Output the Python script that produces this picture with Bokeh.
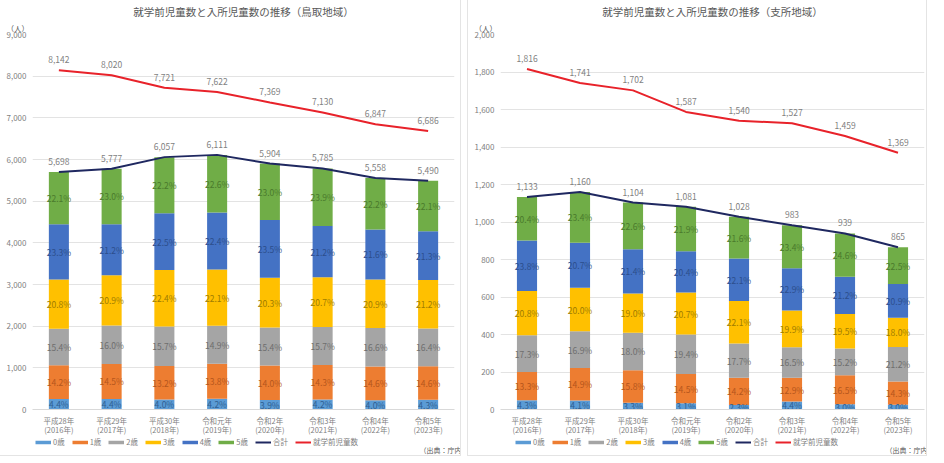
import numpy as np
from bokeh.plotting import figure
from bokeh.models import (ColumnDataSource, FixedTicker, NumeralTickFormatter, Legend,
                          LegendItem, Title, Spacer, Range1d)
from bokeh.layouts import row, column
from bokeh.embed import file_html
from bokeh.resources import INLINE
from bokeh.core.properties import value

FONT = "Noto Sans CJK JP"

years = ["平成28年\n(2016年)", "平成29年\n(2017年)", "平成30年\n(2018年)", "令和元年\n(2019年)",
         "令和2年\n(2020年)", "令和3年\n(2021年)", "令和4年\n(2022年)", "令和5年\n(2023年)"]
ages = ["0歳", "1歳", "2歳", "3歳", "4歳", "5歳"]

# 鳥取地域
tot_a = [5698, 5777, 6057, 6111, 5904, 5785, 5558, 5490]
pre_a = [8142, 8020, 7721, 7622, 7369, 7130, 6847, 6686]
a0 = [251, 254, 242, 257, 230, 243, 222, 236]
a1 = [809, 838, 800, 843, 827, 827, 811, 804]
a2 = [877, 924, 951, 911, 909, 908, 925, 902]
a3 = [1185, 1207, 1357, 1350, 1199, 1198, 1163, 1165]
a4 = [1323, 1225, 1363, 1369, 1384, 1226, 1202, 1170]
a5 = [1253, 1329, 1344, 1381, 1355, 1383, 1235, 1213]
pa0 = [4.4, 4.4, 4.0, 4.2, 3.9, 4.2, 4.0, 4.3]
pa1 = [14.2, 14.5, 13.2, 13.8, 14.0, 14.3, 14.6, 14.6]
pa2 = [15.4, 16.0, 15.7, 14.9, 15.4, 15.7, 16.6, 16.4]
pa3 = [20.8, 20.9, 22.4, 22.1, 20.3, 20.7, 20.9, 21.2]
pa4 = [23.3, 21.2, 22.5, 22.4, 23.5, 21.2, 21.6, 21.3]
pa5 = [22.1, 23.0, 22.2, 22.6, 23.0, 23.9, 22.2, 22.1]

# 支所地域
tot_b = [1133, 1160, 1104, 1081, 1028, 983, 939, 865]
pre_b = [1816, 1741, 1702, 1587, 1540, 1527, 1459, 1369]
b0 = [49, 48, 36, 33, 24, 43, 28, 26]
b1 = [151, 173, 174, 157, 146, 127, 155, 124]
b2 = [196, 196, 199, 210, 182, 162, 143, 183]
b3 = [236, 232, 210, 224, 227, 196, 183, 156]
b4 = [270, 240, 236, 220, 227, 225, 199, 181]
b5 = [231, 271, 249, 237, 222, 230, 231, 195]
pb0 = [4.3, 4.1, 3.3, 3.1, 2.3, 4.4, 3.0, 3.0]
pb1 = [13.3, 14.9, 15.8, 14.5, 14.2, 12.9, 16.5, 14.3]
pb2 = [17.3, 16.9, 18.0, 19.4, 17.7, 16.5, 15.2, 21.2]
pb3 = [20.8, 20.0, 19.0, 20.7, 22.1, 19.9, 19.5, 18.0]
pb4 = [23.8, 20.7, 21.4, 20.4, 22.1, 22.9, 21.2, 20.9]
pb5 = [20.4, 23.4, 22.6, 21.9, 21.6, 23.4, 24.6, 22.5]

source_note = "（出典：庁内資料）"

bar_colors = ["#5B9BD5", "#ED7D31", "#A5A5A5", "#FFC000", "#4472C4", "#70AD47"]
txt_colors = ["#2F5F92", "#B5561C", "#6E6E6E", "#A07C00", "#2C4E8C", "#4A7A2C"]
TOTAL_C = "#1F2860"
PRE_C = "#E8222A"
GRAY = "#7F7F7F"
GRID = "#E3E3E3"
BORDER_L = 32
FRAME_H = 375
STRIP_H = 18


def make_panel(title, tot, pre, counts, pcts, ymax, ystep, fw, border_right, legend_x):
    xs = list(range(len(years)))
    p = figure(output_backend="svg", toolbar_location=None,
               frame_width=fw, frame_height=FRAME_H,
               min_border_left=BORDER_L, min_border_right=border_right,
               min_border_top=2, min_border_bottom=0,
               x_range=Range1d(-0.5, len(years) - 0.5), y_range=Range1d(0, ymax),
               background_fill_color="white", border_fill_color="white")
    p.outline_line_color = None
    p.title.text = title
    p.title.align = "center"
    p.title.text_font = FONT
    p.title.text_font_size = "10.5px"
    p.title.text_font_style = "normal"
    p.title.text_color = "#595959"
    p.title.standoff = 2

    unit = Title(text="（人）", align="left", offset=-26, standoff=2, text_font=FONT,
                 text_font_size="7.5px", text_color="#595959", text_font_style="normal")
    p.add_layout(unit, "above")

    data = {"x": xs}
    for a, c in zip(ages, counts):
        data[a] = c
    src = ColumnDataSource(data)
    p.vbar_stack(ages, x="x", width=0.38, source=src, color=bar_colors, line_color=None)

    # percentage labels at the middle of each segment
    arr = np.array(counts, dtype=float)
    cum = np.cumsum(arr, axis=0)
    mids = cum - arr / 2
    for i in range(len(ages)):
        ls = ColumnDataSource({"x": xs, "y": mids[i],
                               "t": [f"{v:.1f}%" for v in pcts[i]]})
        p.text("x", "y", text="t", source=ls, text_align="center", text_baseline="middle",
               text_font=value(FONT), text_font_size="8.5px", text_color=txt_colors[i])

    p.line(xs, tot, line_color=TOTAL_C, line_width=2)
    p.line(xs, pre, line_color=PRE_C, line_width=2)
    for vals in (tot, pre):
        ls = ColumnDataSource({"x": xs, "y": vals, "t": [f"{v:,}" for v in vals]})
        p.text("x", "y", text="t", source=ls, text_align="center", text_baseline="bottom",
               y_offset=-7, text_font=value(FONT), text_font_size="8.5px", text_color=GRAY)

    # axes
    p.yaxis.ticker = FixedTicker(ticks=list(range(0, ymax + 1, ystep)))
    p.yaxis.formatter = NumeralTickFormatter(format="0,0")
    p.yaxis.axis_line_color = None
    p.yaxis.major_tick_line_color = None
    p.yaxis.minor_tick_line_color = None
    p.yaxis.major_tick_out = 0
    p.yaxis.minor_tick_out = 0
    p.yaxis.major_label_text_font = FONT
    p.yaxis.major_label_text_font_size = "8px"
    p.yaxis.major_label_text_color = GRAY
    p.yaxis.major_label_standoff = 6

    p.xaxis.ticker = FixedTicker(ticks=xs)
    p.xaxis.major_label_overrides = {i: y for i, y in enumerate(years)}
    p.xaxis.axis_line_color = "#D9D9D9"
    p.xaxis.major_tick_line_color = None
    p.xaxis.minor_tick_line_color = None
    p.xaxis.major_tick_out = 0
    p.xaxis.minor_tick_out = 0
    p.xaxis.major_label_text_font = FONT
    p.xaxis.major_label_text_font_size = "7.5px"
    p.xaxis.major_label_text_line_height = 0.85
    p.xaxis.major_label_text_color = GRAY
    p.xaxis.major_label_standoff = 5

    p.xgrid.grid_line_color = None
    p.ygrid.grid_line_color = GRID
    p.ygrid.ticker = FixedTicker(ticks=list(range(0, ymax + 1, ystep)))

    # legend + source strip: its frame covers the whole strip, x and y in pixels
    lw = BORDER_L + fw + border_right
    q = figure(output_backend="svg", toolbar_location=None,
               frame_width=lw, frame_height=STRIP_H,
               x_range=Range1d(0, lw), y_range=Range1d(0, STRIP_H),
               x_axis_location=None, y_axis_location=None,
               min_border_left=0, min_border_right=0, min_border_top=0, min_border_bottom=0,
               background_fill_color="white", border_fill_color="white")
    q.outline_line_color = None
    q.grid.visible = False
    # legend renderers carry the series; all their values lie above the strip's view
    items = []
    for a, c, cnt in zip(ages, bar_colors, counts):
        r = q.line(xs, cnt, line_color=c, line_width=3.5)
        items.append(LegendItem(label=a, renderers=[r]))
    r = q.line(xs, tot, line_color=TOTAL_C, line_width=2)
    items.append(LegendItem(label="合計", renderers=[r]))
    r = q.line(xs, pre, line_color=PRE_C, line_width=2)
    items.append(LegendItem(label="就学前児童数", renderers=[r]))
    leg = Legend(items=items, orientation="horizontal", location=(legend_x, 8),
                 glyph_width=16, glyph_height=8, label_text_font=FONT,
                 label_text_font_size="7.5px", label_text_color=GRAY,
                 label_standoff=2, spacing=7, padding=0, margin=0, label_width=0,
                 label_height=8, border_line_color=None, background_fill_alpha=0)
    q.add_layout(leg)
    q.text(x=[lw - 10], y=[1], text=[source_note], text_font=value(FONT),
           text_font_size="7px", text_color="#595959",
           text_align="right", text_baseline="bottom")
    col = column(p, q, spacing=0)
    col.styles = {"outline": "1px solid #E4E4E4"}
    return col


c1 = make_panel("就学前児童数と入所児童数の推移（鳥取地域）", tot_a, pre_a,
                [a0, a1, a2, a3, a4, a5], [pa0, pa1, pa2, pa3, pa4, pa5],
                9000, 1000, 422, 6, BORDER_L + 3)
c2 = make_panel("就学前児童数と入所児童数の推移（支所地域）", tot_b, pre_b,
                [b0, b1, b2, b3, b4, b5], [pb0, pb1, pb2, pb3, pb4, pb5],
                2000, 200, 424, 2, BORDER_L + 15)

layout = row(c1, Spacer(width=8), c2)
open("out.html", "w").write(file_html(layout, INLINE))
